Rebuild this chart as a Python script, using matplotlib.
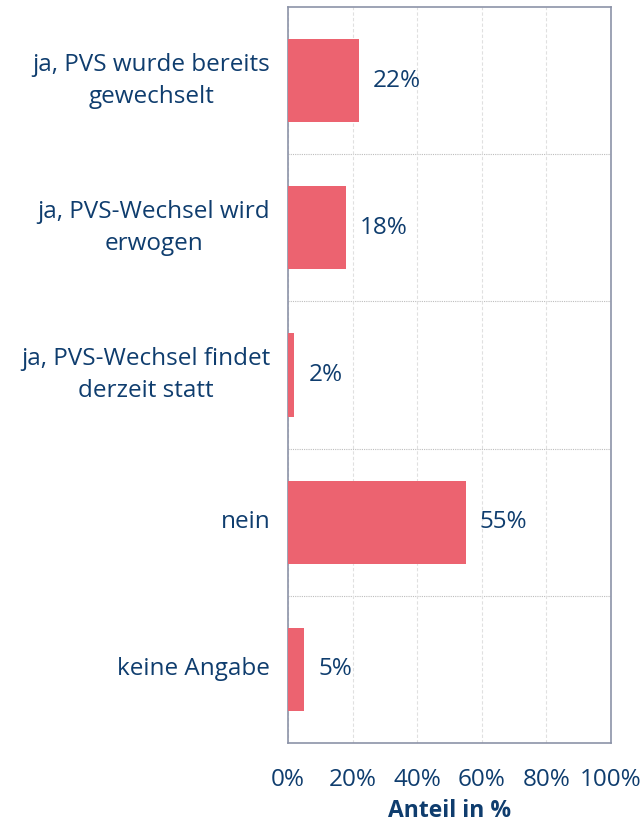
import matplotlib.pyplot as plt
import numpy as np

categories = [
    "ja, PVS wurde bereits\ngewechselt",
    "ja, PVS-Wechsel wird\nerwogen",
    "ja, PVS-Wechsel findet\nderzeit statt",
    "nein",
    "keine Angabe",
]
values = [22, 18, 2, 55, 5]
xticks = [0, 20, 40, 60, 80, 100]

TEXT = "#0F3D6E"
BAR = "#EC6370"
FRAME = "#8C93A8"

plt.rcParams["font.family"] = ["Open Sans", "DejaVu Sans"]

fig = plt.figure(figsize=(6.43, 8.25), dpi=100)
ax = fig.add_axes([288 / 643, 1 - 743 / 825, 323 / 643, 736 / 825])

y = np.arange(len(categories))
ax.barh(y, values, height=0.565, color=BAR, zorder=3)
ax.set_ylim(len(categories) - 0.5, -0.5)
ax.set_xlim(0, 100)

for yi, v in zip(y, values):
    ax.text(v + 4.3, yi, f"{v}%", va="center", ha="left", fontsize=17.5, color=TEXT)

for yi, lab in zip(y, categories):
    ax.text(-5.5, yi, lab, va="center", ha="right", multialignment="center",
            fontsize=17.5, color=TEXT, linespacing=1.45)

ax.set_yticks([])
for b in np.arange(0.5, len(categories) - 0.5, 1):
    ax.axhline(b, color="#BDBDBD", lw=0.8, ls=(0, (1, 1)), zorder=1)

ax.set_xticks(xticks)
ax.set_xticklabels([f"{t}%" for t in xticks], fontsize=17.5, color=TEXT)
ax.tick_params(axis="x", length=0, pad=18)
ax.grid(axis="x", color="#E0E0E0", lw=0.8, ls=(0, (3, 2)), zorder=0)
ax.set_xlabel("Anteil in %", fontsize=16.5, fontweight="bold", color=TEXT, labelpad=5)

for s in ax.spines.values():
    s.set_color(FRAME)
    s.set_linewidth(1.2)

fig.savefig("out.png", dpi=100)
